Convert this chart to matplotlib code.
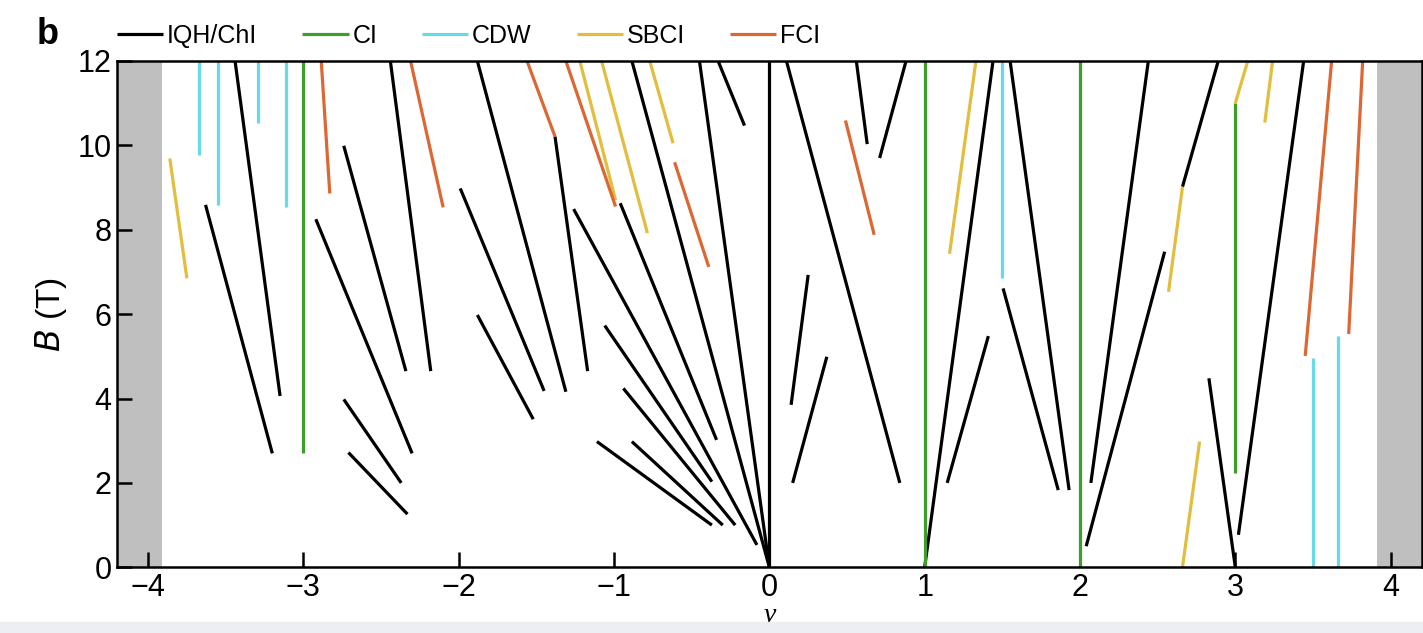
import matplotlib
matplotlib.use('Agg')
import matplotlib.pyplot as plt
from matplotlib.patches import Rectangle

plt.rcParams['font.family'] = ['Liberation Sans', 'DejaVu Sans']

# segments as (nu_start, B_start, nu_end, B_end)
iqh = [
    (-3.44, 12, -3.15, 4.06), (-3.63, 8.59, -3.20, 2.70),
    (-2.74, 9.99, -2.34, 4.65), (-2.92, 8.25, -2.30, 2.70),
    (-2.44, 12, -2.18, 4.65), (-2.74, 3.98, -2.37, 2.0),
    (-2.71, 2.72, -2.33, 1.26), (-1.99, 8.98, -1.45, 4.18),
    (-1.88, 12, -1.31, 4.16), (-1.88, 5.98, -1.52, 3.51),
    (-1.38, 10.21, -1.17, 4.65),
    (-0.45, 12, 0, 0), (-0.885, 12, 0, 0), (-0.96, 8.63, -0.34, 3.02),
    (-1.26, 8.49, -0.08, 0.53), (-1.06, 5.73, -0.37, 2.03),
    (-0.94, 4.24, -0.22, 1.0), (-0.885, 2.98, -0.30, 1.0),
    (-1.11, 2.98, -0.37, 1.0), (-0.33, 12, -0.16, 10.47),
    (0, 0, 0, 12),
    (0.11, 12, 0.84, 2.0), (0.25, 6.93, 0.14, 3.85), (0.37, 4.99, 0.15, 2.0),
    (0.56, 12, 0.63, 10.03), (0.88, 12, 0.71, 9.70),
    (1.44, 12, 1.0, 0), (1.41, 5.48, 1.145, 2.0),
    (1.55, 12, 1.93, 1.83), (1.505, 6.61, 1.86, 1.83),
    (2.44, 12, 2.07, 2.0), (2.545, 7.48, 2.04, 0.5),
    (2.89, 12, 2.66, 9.02), (3.44, 12, 3.02, 0.77), (2.83, 4.48, 3.0, 0),
]
ci = [(-3, 2.70, -3, 12), (1, 0, 1, 12), (2, 0, 2, 12), (3, 2.23, 3, 11.0)]
cdw = [
    (-3.67, 9.77, -3.67, 12), (-3.55, 8.59, -3.55, 12),
    (-3.29, 10.54, -3.29, 12), (-3.11, 8.53, -3.11, 12),
    (1.5, 6.85, 1.5, 12), (3.5, 0, 3.5, 4.95), (3.66, 0, 3.66, 5.48),
]
sbci = [
    (-3.86, 9.69, -3.75, 6.85), (-1.22, 12, -0.99, 8.7),
    (-1.08, 12, -0.785, 7.92), (-0.77, 12, -0.62, 10.05),
    (1.33, 12, 1.16, 7.43), (2.66, 9.02, 2.57, 6.53),
    (2.77, 2.98, 2.66, 0), (3.0, 11.0, 3.08, 12), (3.24, 12, 3.19, 10.54),
]
fci = [
    (-2.885, 12, -2.83, 8.86), (-2.31, 12, -2.10, 8.53),
    (-1.56, 12, -1.38, 10.21), (-1.31, 12, -0.99, 8.55),
    (-0.61, 9.60, -0.39, 7.12), (0.49, 10.59, 0.675, 7.88),
    (3.62, 12, 3.45, 5.01), (3.82, 12, 3.73, 5.53),
]
groups = [('IQH/ChI', iqh, 'black'), ('CI', ci, '#3f9e2a'),
          ('CDW', cdw, '#66dbe6'), ('SBCI', sbci, '#e2bd3e'),
          ('FCI', fci, '#dc6733')]
xticks = [-4, -3, -2, -1, 0, 1, 2, 3, 4]
yticks = [0, 2, 4, 6, 8, 10, 12]

fig = plt.figure(figsize=(14.23, 6.33), dpi=100)
ax = fig.add_axes([117/1423, 65.7/633, (1421.7-117)/1423, 506.3/633])

# excluded filling ranges
ax.axvspan(-4.2, -3.91, color='#bfbfbf', lw=0, zorder=0)
ax.axvspan(3.91, 4.2, color='#bfbfbf', lw=0, zorder=0)

handles = []
for label, segs, col in groups:
    for i, (x0, y0, x1, y1) in enumerate(segs):
        ln, = ax.plot([x0, x1], [y0, y1], color=col, lw=2.3,
                      solid_capstyle='butt', zorder=2)
        if i == 0:
            ln.set_label(label)
            handles.append(ln)

ax.set_xlim(-4.2, 4.2)
ax.set_ylim(0, 12)
ax.set_xticks(xticks)
ax.set_xticklabels([str(t).replace('-', '\u2212') for t in xticks])
ax.set_yticks(yticks)
ax.tick_params(direction='in', length=11, width=1.8, labelsize=22,
               top=False, right=False)
ax.tick_params(axis='x', pad=4)
ax.tick_params(axis='y', pad=4)
for s in ax.spines.values():
    s.set_linewidth(1.8)

ax.set_ylabel('$\\it{B}$ (T)', fontsize=24, labelpad=6)
ax.set_xlabel('\u03bd', fontsize=20, family='Liberation Serif',
              style='italic', labelpad=0)

fig.legend(handles=handles, loc='center left', ncol=5, frameon=False,
           bbox_to_anchor=(117/1423, 0.943), fontsize=18, borderpad=0,
           borderaxespad=0, handlelength=1.85, handletextpad=0.15,
           columnspacing=1.8)
fig.text(0.026, 0.945, 'b', fontsize=26, weight='bold', va='center')

# light strip at the bottom of the screenshot
fig.patches.append(Rectangle((0, 0), 1, 11/633, transform=fig.transFigure,
                             color='#eceef3', zorder=-1))

fig.savefig('out.png', dpi=100)
